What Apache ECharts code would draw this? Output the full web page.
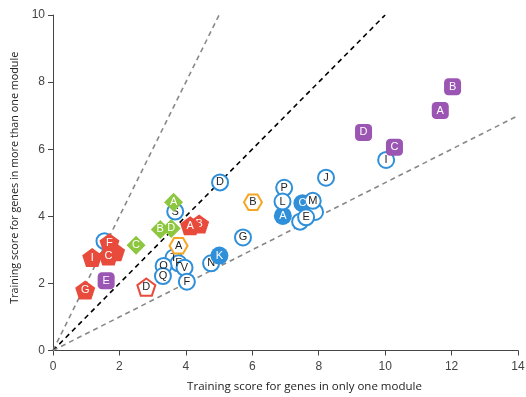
<!DOCTYPE html>
<html>
<head>
<meta charset="utf-8">
<script src="https://cdn.jsdelivr.net/npm/echarts@6/dist/echarts.min.js"></script>
<style>html,body{margin:0;padding:0;background:#fff}#c{width:526px;height:397px}</style>
</head>
<body>
<div id="c"></div>
<script>
// Axis ticks
var xTicks = [0, 2, 4, 6, 8, 10, 12, 14];
var yTicks = [0, 2, 4, 6, 8, 10];

// Reference lines (slopes through origin) and end points
var steepLine = [[0, 0], [5, 10]];
var identityLine = [[0, 0], [10, 10]];
var shallowLine = [[0, 0], [14, 7]];

// Series data: [x, y, label]
var blueHollowUnder = [
  [1.55, 3.26, ''], [3.68, 4.14, 'S'], [3.63, 2.77, 'T'], [3.78, 2.60, 'F'],
  [3.96, 2.47, 'V'], [3.33, 2.52, 'O'], [3.31, 2.22, 'Q'], [4.03, 2.05, 'F'],
  [4.76, 2.60, 'N']
];
var blueFilledUnder = [
  [6.92, 4.01, 'A'], [7.51, 4.39, 'C']
];
var blueHollowOver = [
  [5.03, 5.01, 'D'], [5.72, 3.37, 'G'], [6.96, 4.85, 'P'], [8.22, 5.15, 'J'],
  [6.91, 4.44, 'L'], [7.89, 4.13, ''], [7.82, 4.46, 'M'], [7.44, 3.84, ''],
  [7.62, 3.97, 'E'], [10.03, 5.68, 'I']
];
var blueFilledOver = [
  [5.01, 2.83, 'K']
];
var orangeHex = [
  [3.78, 3.12, 'A'], [6.02, 4.42, 'B']
];
var greenDiamond = [
  [2.50, 3.14, 'C'], [3.63, 4.42, 'A'], [3.23, 3.61, 'B'], [3.56, 3.64, 'D']
];
var purpleSquare = [
  [1.60, 2.08, 'E'], [12.03, 7.86, 'B'], [11.66, 7.15, 'A'], [9.35, 6.50, 'D'], [10.28, 6.06, 'C']
];
var redHollowPent = [
  [2.81, 1.89, 'D']
];
var redPentBack = [
  [1.87, 2.94, ''], [4.40, 3.77, 'B']
];
var redPentFront = [
  [0.97, 1.80, 'G'], [1.18, 2.77, 'I'], [1.67, 2.82, 'C'],
  [1.70, 3.21, 'F'], [4.13, 3.72, 'A']
];

var PENT = 'path://M50,2 L97.6,36.6 L79.4,92.5 L20.6,92.5 L2.4,36.6 Z';
var HEX = 'path://M0,50 L25,6.7 L75,6.7 L100,50 L75,93.3 L25,93.3 Z';

var BLUE = '#2f8fd9';
var RED = '#e84b3c';
var PURPLE = '#9b55b3';
var GREEN = '#8dc63f';
var ORANGE = '#f6a623';
var FONT = 'Liberation Sans';

function lbl(color) {
  return {
    show: true, position: 'inside', color: color, fontSize: 11, fontFamily: FONT,
    formatter: function (p) { return p.data[2]; }
  };
}
function scatter(data, symbol, size, fill, border, bw, lcolor, z) {
  return {
    type: 'scatter', data: data, symbol: symbol, symbolSize: size, symbolKeepAspect: true,
    itemStyle: { color: fill, borderColor: border, borderWidth: bw, opacity: 1 },
    label: lbl(lcolor), emphasis: { disabled: true }, animation: false, z: z || 2
  };
}
function refLine(data, color) {
  return {
    type: 'line', data: data, symbol: 'none', silent: true, animation: false,
    lineStyle: { color: color, width: 1.6, type: [5, 4] }, z: 1
  };
}

var chart = echarts.init(document.getElementById('c'), null, { renderer: 'canvas' });
chart.setOption({
  backgroundColor: '#fff',
  grid: { left: 53, right: 8, top: 15, bottom: 46.5, containLabel: false, outerBoundsMode: 'none' },
  xAxis: {
    type: 'value', min: xTicks[0], max: xTicks[xTicks.length - 1], interval: 2,
    name: 'Training score for genes in only one module', nameLocation: 'middle', nameGap: 30,
    nameTextStyle: { fontFamily: 'Open Sans', fontSize: 11.5, color: '#222', padding: [0, 0, 0, 38] },
    axisLine: { lineStyle: { color: '#444', width: 1 } },
    axisTick: { show: true, length: 5, lineStyle: { color: '#444' } },
    axisLabel: { color: '#444', fontSize: 12, fontFamily: FONT, margin: 10 },
    splitLine: { show: false }
  },
  yAxis: {
    type: 'value', min: yTicks[0], max: yTicks[yTicks.length - 1], interval: 2,
    name: 'Training score for genes in more than one module', nameLocation: 'middle', nameGap: 27,
    nameTextStyle: { fontFamily: 'Open Sans', fontSize: 10.8, color: '#222', padding: [0, 0, 0, 10] },
    axisLine: { show: true, lineStyle: { color: '#444', width: 1 } },
    axisTick: { show: true, length: 5, lineStyle: { color: '#444' } },
    axisLabel: { color: '#444', fontSize: 12, fontFamily: FONT, margin: 8 },
    splitLine: { show: false }
  },
  series: [
    refLine(steepLine, '#888'),
    refLine(identityLine, '#000'),
    refLine(shallowLine, '#888'),
    scatter(blueHollowUnder, 'circle', 16, '#fff', BLUE, 2, '#222', 2),
    scatter(blueFilledUnder, 'circle', 18, BLUE, BLUE, 0, '#fff', 2),
    scatter(blueHollowOver, 'circle', 16, '#fff', BLUE, 2, '#222', 2),
    scatter(blueFilledOver, 'circle', 18, BLUE, BLUE, 0, '#fff', 3),
    scatter(orangeHex, HEX, 18, '#fff', ORANGE, 2, '#222', 3),
    scatter(greenDiamond, 'diamond', 19, GREEN, GREEN, 0, '#fff', 3),
    scatter(purpleSquare, 'roundRect', 17, PURPLE, PURPLE, 0, '#fff', 3),
    scatter(redHollowPent, PENT, 18, '#fff', RED, 2, '#222', 3),
    scatter(redPentBack, PENT, 20, RED, RED, 0, '#fff', 3),
    scatter(redPentFront, PENT, 20, RED, RED, 0, '#fff', 4)
  ]
});
</script>
</body>
</html>
